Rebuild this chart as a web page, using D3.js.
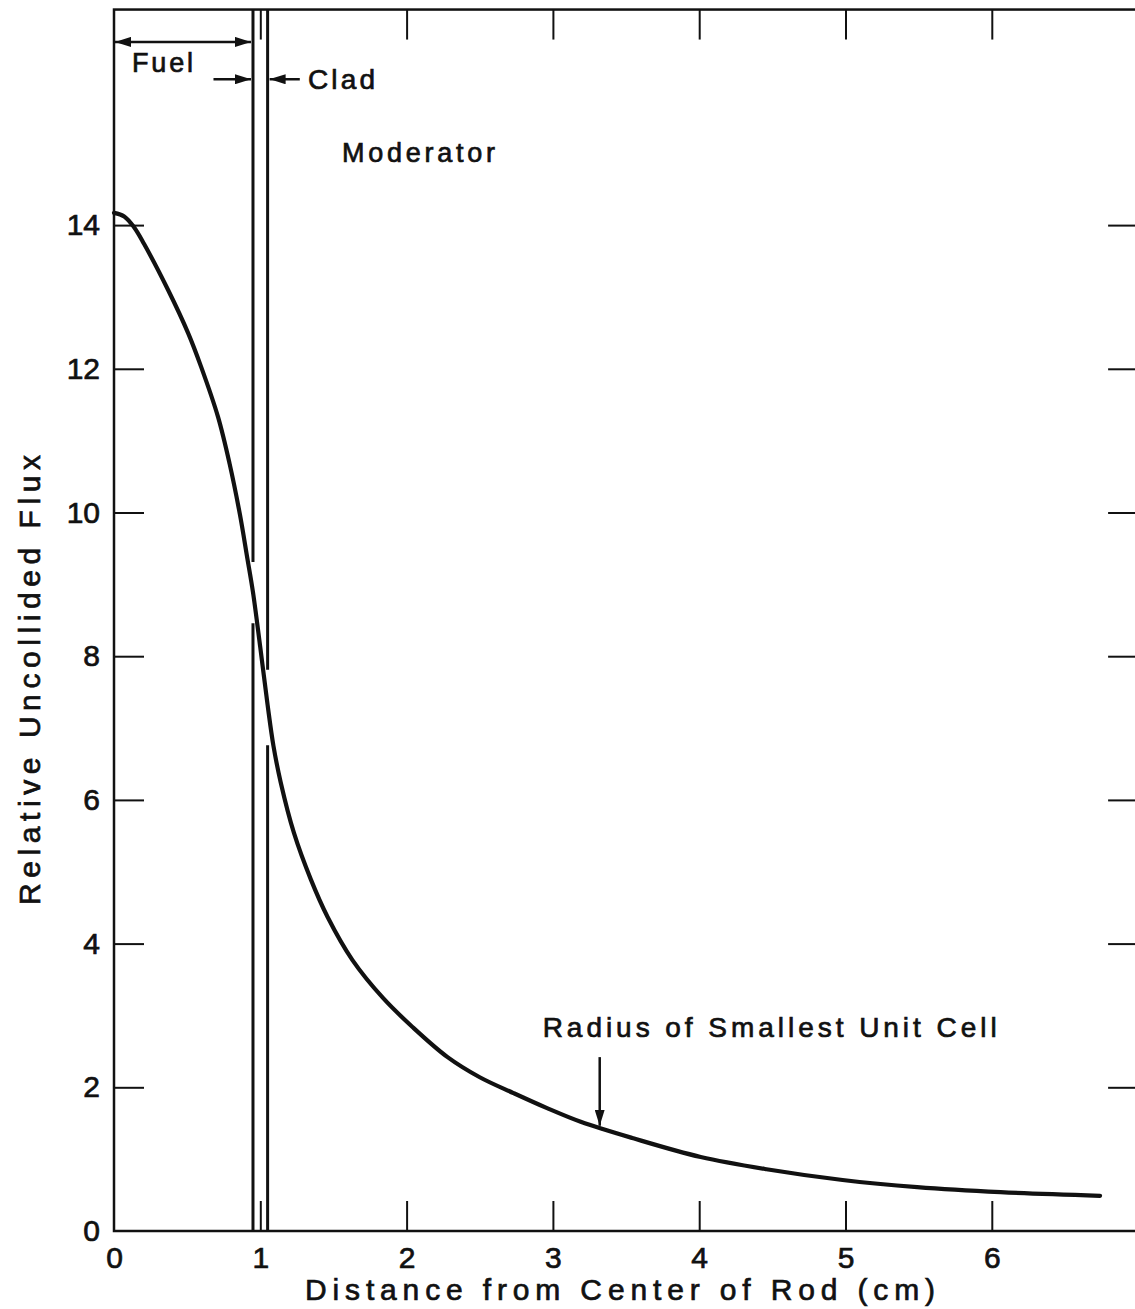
<!DOCTYPE html>
<html>
<head>
<meta charset="utf-8">
<script src="https://cdn.jsdelivr.net/npm/d3@7"></script>
<style>
  body { margin: 0; background: #fff; }
  text { font-family: "Liberation Sans", "DejaVu Sans", sans-serif; fill: #111; stroke: #111; stroke-width: 0.7; }
</style>
</head>
<body>
<svg id="chart" width="1135" height="1309"></svg>
<script>
// Uncollided flux across a fuel rod cell (distance in cm, relative flux)
const distance = [0, 0.07, 0.137, 0.205, 0.369, 0.506, 0.595, 0.711, 0.79, 0.86, 0.91, 0.95, 1.00, 1.05, 1.09, 1.14, 1.23, 1.346, 1.46, 1.63, 1.84, 2.04, 2.28, 2.50, 2.73, 2.96, 3.19, 3.55, 4.01, 4.46, 4.98, 5.49, 6.06, 6.74];
const flux = [14.17, 14.12, 13.97, 13.74, 13.10, 12.50, 12.03, 11.33, 10.68, 9.98, 9.38, 8.89, 8.12, 7.32, 6.75, 6.24, 5.54, 4.89, 4.37, 3.77, 3.24, 2.84, 2.42, 2.14, 1.92, 1.71, 1.52, 1.29, 1.03, 0.86, 0.71, 0.61, 0.54, 0.49];

const xTicks = [0, 1, 2, 3, 4, 5, 6];
const yTicks = [0, 2, 4, 6, 8, 10, 12, 14];
const xDomain = [0, 7];
const yDomain = [0, 17];

// Region boundaries (cm)
const fuelRadius = 0.95;
const cladRadius = 1.05;
const cellRadius = 3.32;

// Boundary lines are interrupted where the flux curve crosses them
const boundaryFrom = [17, 8.46, 17, 6.76];
const boundaryTo   = [9.31, 0, 7.81, 0];
const boundaryAt   = [fuelRadius, fuelRadius, cladRadius, cladRadius];

const svg = d3.select("#chart");

const x = d3.scaleLinear().domain(xDomain).range([114, 114 + 7 * 146.3]);
const y = d3.scaleLinear().domain(yDomain).range([1231, 1231 - 17 * 71.85]);

const ink = "#111";
const tickLen = 30;

// Frame
svg.append("rect")
  .attr("x", x(0)).attr("y", y(17))
  .attr("width", x(7) - x(0)).attr("height", y(0) - y(17))
  .attr("fill", "none").attr("stroke", ink).attr("stroke-width", 2.5);

function styleAxis(g, fontSize) {
  g.select(".domain").remove();
  g.selectAll(".tick line").attr("stroke", ink).attr("stroke-width", 2);
  g.selectAll(".tick text").attr("font-size", fontSize).attr("fill", ink)
    .attr("font-family", "\"Liberation Sans\", \"DejaVu Sans\", sans-serif");
}

// Bottom axis with labels
const gx = svg.append("g").attr("transform", `translate(0,${y(0)})`)
  .call(d3.axisBottom(x).tickValues(xTicks).tickSizeInner(-tickLen).tickSizeOuter(0)
    .tickPadding(16).tickFormat(d3.format("d")));
styleAxis(gx, 30);
gx.selectAll(".tick").filter(d => d === 0).select("line").remove();

// Top axis, ticks only
const gxt = svg.append("g").attr("transform", `translate(0,${y(17)})`)
  .call(d3.axisTop(x).tickValues(xTicks.filter(d => d > 0)).tickSizeInner(-tickLen).tickSizeOuter(0).tickFormat(""));
styleAxis(gxt, 0);

// Left axis with labels
const gy = svg.append("g").attr("transform", `translate(${x(0)},0)`)
  .call(d3.axisLeft(y).tickValues(yTicks).tickSizeInner(-tickLen).tickSizeOuter(0)
    .tickPadding(14).tickFormat(d3.format("d")));
styleAxis(gy, 30);
gy.selectAll(".tick").filter(d => d === 0).select("line").remove();

// Right axis, ticks only
const gyr = svg.append("g").attr("transform", `translate(${x(7)},0)`)
  .call(d3.axisRight(y).tickValues(yTicks.filter(d => d > 0)).tickSizeInner(-tickLen).tickSizeOuter(0).tickFormat(""));
styleAxis(gyr, 0);

// Axis titles
svg.append("text")
  .attr("x", 305).attr("y", 1300)
  .attr("font-size", 30)
  .attr("textLength", 630).attr("lengthAdjust", "spacing")
  .text("Distance from Center of Rod (cm)");

svg.append("text")
  .attr("transform", "translate(40,680) rotate(-90)")
  .attr("text-anchor", "middle")
  .attr("font-size", 30)
  .attr("textLength", 450).attr("lengthAdjust", "spacing")
  .text("Relative Uncollided Flux");

// Fuel / clad boundary lines
svg.append("g").selectAll("line")
  .data(d3.range(boundaryAt.length))
  .join("line")
  .attr("x1", i => x(boundaryAt[i])).attr("x2", i => x(boundaryAt[i]))
  .attr("y1", i => y(boundaryFrom[i])).attr("y2", i => y(boundaryTo[i]))
  .attr("stroke", ink).attr("stroke-width", 3);

// Flux curve
const line = d3.line()
  .x(i => x(distance[i]))
  .y(i => y(flux[i]))
  .curve(d3.curveCatmullRom.alpha(0.5));

svg.append("path")
  .attr("d", line(d3.range(distance.length)))
  .attr("fill", "none").attr("stroke", ink).attr("stroke-width", 4.2)
  .attr("stroke-linejoin", "round").attr("stroke-linecap", "round");

// Arrowhead marker
const defs = svg.append("defs");
defs.append("marker")
  .attr("id", "head").attr("viewBox", "0 0 16 10")
  .attr("refX", 16).attr("refY", 5)
  .attr("markerWidth", 16).attr("markerHeight", 10)
  .attr("markerUnits", "userSpaceOnUse")
  .attr("orient", "auto-start-reverse")
  .append("path").attr("d", "M0,0 L16,5 L0,10 Z").attr("fill", ink);

function arrow(x1, y1, x2, y2, both) {
  const l = svg.append("line")
    .attr("x1", x1).attr("y1", y1).attr("x2", x2).attr("y2", y2)
    .attr("stroke", ink).attr("stroke-width", 2.5)
    .attr("marker-end", "url(#head)");
  if (both) l.attr("marker-start", "url(#head)");
}

// Fuel width arrow
arrow(x(0) + 1, y(16.55), x(fuelRadius) - 2, y(16.55), true);
svg.append("text").attr("x", x(0.123)).attr("y", y(16.13))
  .attr("font-size", 27).attr("textLength", 61).attr("lengthAdjust", "spacing").text("Fuel");

// Clad arrows
arrow(x(0.68), y(16.03), x(fuelRadius) - 2, y(16.03), false);
arrow(x(1.27), y(16.03), x(cladRadius) + 2, y(16.03), false);
svg.append("text").attr("x", x(1.326)).attr("y", y(15.89))
  .attr("font-size", 28).attr("textLength", 67).attr("lengthAdjust", "spacing").text("Clad");

// Moderator region label
svg.append("text").attr("x", x(1.558)).attr("y", y(14.88))
  .attr("font-size", 27).attr("textLength", 153).attr("lengthAdjust", "spacing").text("Moderator");

// Unit cell radius marker: arrow ending on the curve
const i1 = d3.bisectRight(distance, cellRadius);
const t = (cellRadius - distance[i1 - 1]) / (distance[i1] - distance[i1 - 1]);
const fluxAtCell = flux[i1 - 1] + t * (flux[i1] - flux[i1 - 1]);
arrow(x(cellRadius), y(2.42), x(cellRadius), y(fluxAtCell) - 2, false);
svg.append("text").attr("x", x(2.93)).attr("y", y(2.70))
  .attr("font-size", 28).attr("textLength", 454).attr("lengthAdjust", "spacing")
  .text("Radius of Smallest Unit Cell");
</script>
</body>
</html>
